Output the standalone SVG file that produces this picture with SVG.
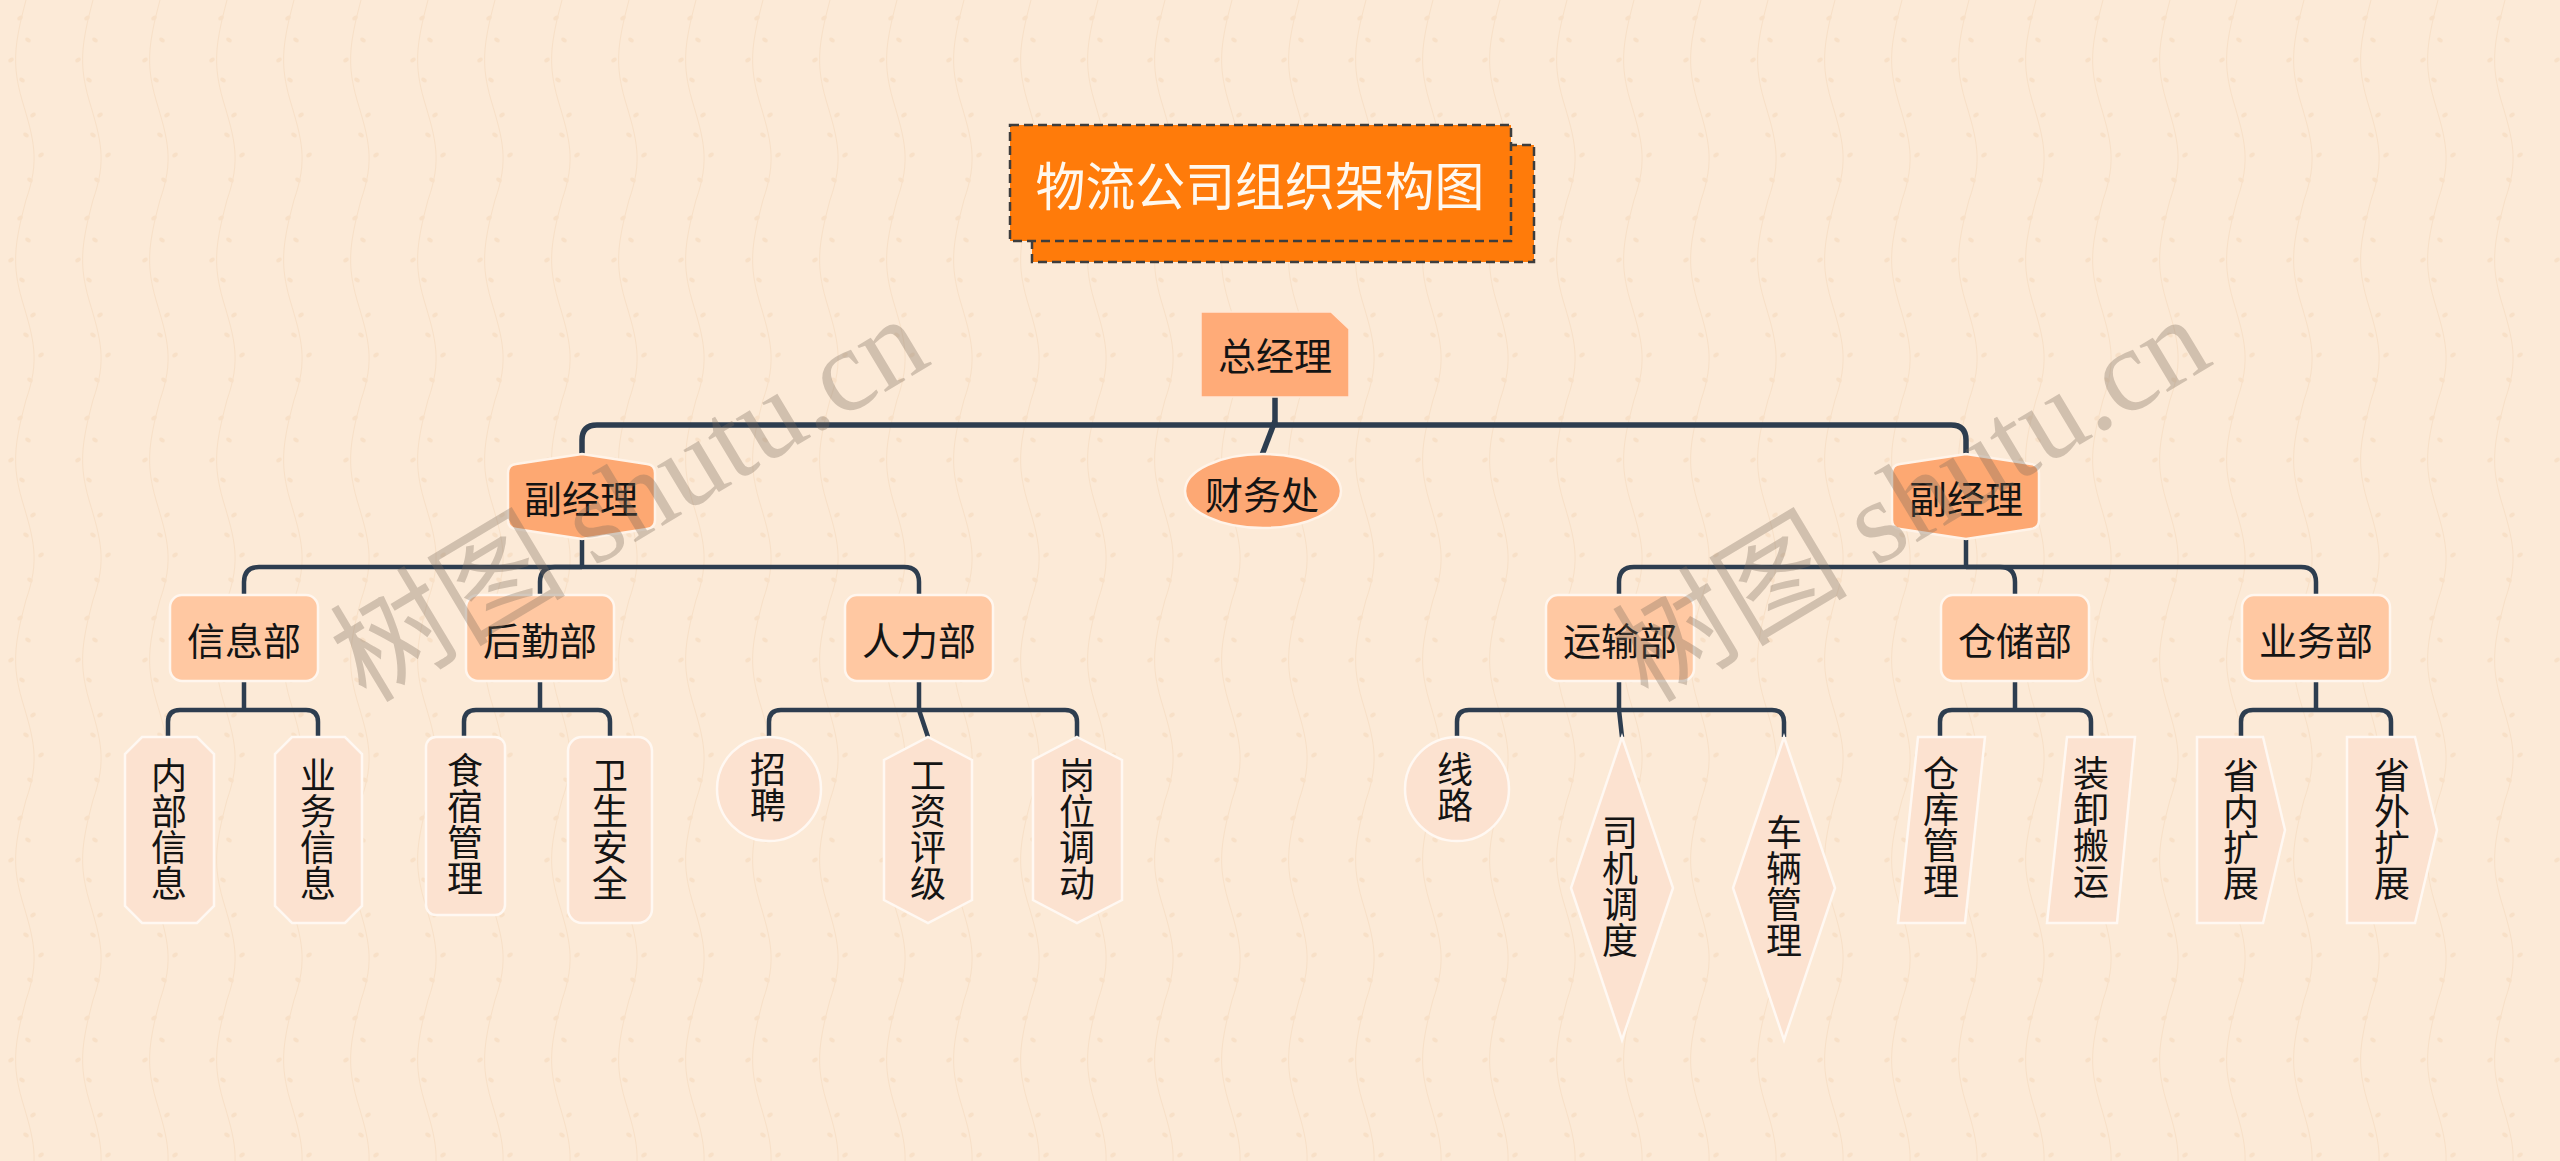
<svg xmlns="http://www.w3.org/2000/svg" width="2560" height="1161" viewBox="0 0 2560 1161">
<defs>
<style>
.conn{fill:none;stroke:#2D3D4F;stroke-width:4.5;stroke-linecap:butt;stroke-linejoin:round}
.main{stroke-width:5.5}
.t{font-family:"Noto Sans CJK SC","Noto Sans",sans-serif;fill:#141414;dominant-baseline:central;text-anchor:middle}
.lv{font-size:38px}
.lf{font-size:36px}
.mgr{fill:#FDA872;stroke:#FFF3E8;stroke-width:2.5}
.dept{fill:#FFC8A2;stroke:#FFF6EE;stroke-width:2.5}
.leaf{fill:#FCE2D0;stroke:#FFF8F2;stroke-width:2.5}
.wm{font-family:"Liberation Serif","Noto Sans CJK SC",serif;font-size:118px;fill:#7A6A5A;fill-opacity:0.33}
</style>
<pattern id="bgp" width="67" height="200" patternUnits="userSpaceOnUse">
<rect width="67" height="200" fill="#FCEAD7"/>
<path d="M26,0 C14,45 12,65 22,100 C34,140 40,160 26,200" fill="none" stroke="#F8E0C7" stroke-width="1"/>
<g fill="#F8E0C7">
<ellipse cx="20" cy="18" rx="3" ry="2" transform="rotate(-30 20 18)"/>
<ellipse cx="28" cy="40" rx="3" ry="2" transform="rotate(30 28 40)"/>
<ellipse cx="11" cy="60" rx="3" ry="2" transform="rotate(-30 11 60)"/>
<ellipse cx="22" cy="80" rx="3" ry="2" transform="rotate(30 22 80)"/>
<ellipse cx="33" cy="115" rx="3" ry="2" transform="rotate(-30 33 115)"/>
<ellipse cx="26" cy="135" rx="3" ry="2" transform="rotate(30 26 135)"/>
<ellipse cx="41" cy="155" rx="3" ry="2" transform="rotate(-30 41 155)"/>
<ellipse cx="30" cy="180" rx="3" ry="2" transform="rotate(30 30 180)"/>
</g>
</pattern>
</defs>
<rect width="2560" height="1161" fill="url(#bgp)"/>

<g id="connectors">
<path class="conn main" d="M1275,397 V425"/>
<path class="conn main" d="M1275,425 H597 Q582,425 582,440 V455"/>
<path class="conn main" d="M1275,425 H1951 Q1966,425 1966,440 V455"/>
<path class="conn main" d="M1275,421 L1262,455"/>
<path class="conn" d="M582,538 V567"/>
<path class="conn" d="M582,567 H259 Q244,567 244,582 V595"/>
<path class="conn" d="M582,567 H555 Q540,567 540,582 V595"/>
<path class="conn" d="M582,567 H904 Q919,567 919,582 V595"/>
<path class="conn" d="M1966,538 V567"/>
<path class="conn" d="M1966,567 H1634 Q1619,567 1619,582 V595"/>
<path class="conn" d="M1966,567 H2000 Q2015,567 2015,582 V595"/>
<path class="conn" d="M1966,567 H2301 Q2316,567 2316,582 V595"/>
<path class="conn" d="M244,681 V710 M244,710 H180 Q168,710 168,722 V737 M244,710 H306 Q318,710 318,722 V737"/>
<path class="conn" d="M540,681 V710 M540,710 H476 Q464,710 464,722 V737 M540,710 H598 Q610,710 610,722 V737"/>
<path class="conn" d="M919,681 V710 L928,737 M919,710 H781 Q769,710 769,722 V737 M919,710 H1065 Q1077,710 1077,722 V737"/>
<path class="conn" d="M1619,681 V710 L1622,737 M1619,710 H1469 Q1457,710 1457,722 V737 M1619,710 H1772 Q1784,710 1784,722 V737"/>
<path class="conn" d="M2015,681 V710 M2015,710 H1952 Q1940,710 1940,722 V737 M2015,710 H2079 Q2091,710 2091,722 V737"/>
<path class="conn" d="M2316,681 V710 M2316,710 H2253 Q2241,710 2241,722 V737 M2316,710 H2379 Q2391,710 2391,722 V737"/>
</g>

<g id="title">
<rect x="1032" y="145" width="502" height="117" fill="#FF7B0A" stroke="#3D3D3D" stroke-width="2.5" stroke-dasharray="9 5"/>
<rect x="1010" y="125" width="501" height="116" fill="#FF7B0A" stroke="#3D3D3D" stroke-width="2.5" stroke-dasharray="9 5"/>
<text class="t" x="1260" y="183" font-size="52" textLength="449" lengthAdjust="spacingAndGlyphs" style="fill:#FFF8EE">物流公司组织架构图</text>
</g>

<g id="n-gm">
<path d="M1201,312 H1331 L1349,329 V397 H1201 Z" fill="#FFAB78" stroke="#FFE8D6" stroke-width="1.5"/>
<text class="t lv" x="1275" y="353">总经理</text>
</g>

<g id="n-finance">
<ellipse cx="1263" cy="491" rx="78" ry="37" fill="#FDA874" stroke="#FFF3E8" stroke-width="2.5"/>
<text class="t lv" x="1262" y="492">财务处</text>
</g>

<g id="n-vgm-left">
<path class="mgr" d="M582,454 L647,464 Q655,465 655,473 L655,520 Q655,528 647,529 L582,539 L516,529 Q508,528 508,520 L508,473 Q508,465 516,464 Z"/>
<text class="t lv" x="581" y="496">副经理</text>
</g>

<g id="n-vgm-right">
<path class="mgr" d="M1966,454 L2031,464 Q2039,465 2039,473 L2039,520 Q2039,528 2031,529 L1966,539 L1900,529 Q1892,528 1892,520 L1892,473 Q1892,465 1900,464 Z"/>
<text class="t lv" x="1966" y="496">副经理</text>
</g>

<g id="n-info"><rect class="dept" x="170" y="595" width="148" height="86" rx="12"/><text class="t lv" x="244" y="638">信息部</text></g>
<g id="n-logistics"><rect class="dept" x="466" y="595" width="148" height="86" rx="12"/><text class="t lv" x="540" y="638">后勤部</text></g>
<g id="n-hr"><rect class="dept" x="845" y="595" width="148" height="86" rx="12"/><text class="t lv" x="919" y="638">人力部</text></g>
<g id="n-transport"><rect class="dept" x="1546" y="595" width="148" height="86" rx="12"/><text class="t lv" x="1620" y="638">运输部</text></g>
<g id="n-storage"><rect class="dept" x="1941" y="595" width="148" height="86" rx="12"/><text class="t lv" x="2015" y="638">仓储部</text></g>
<g id="n-business"><rect class="dept" x="2242" y="595" width="148" height="86" rx="12"/><text class="t lv" x="2316" y="638">业务部</text></g>

<g id="n-internal-info">
<path class="leaf" d="M142,737 H197 L214,754 V906 L197,923 H142 L125,906 V754 Z"/>
<text class="t lf" x="169" y="773"><tspan x="169">内</tspan><tspan x="169" dy="36">部</tspan><tspan x="169" dy="36">信</tspan><tspan x="169" dy="36">息</tspan></text>
</g>
<g id="n-business-info">
<path class="leaf" d="M292,737 H345 L362,754 V906 L345,923 H292 L275,906 V754 Z"/>
<text class="t lf" x="318" y="773"><tspan x="318">业</tspan><tspan x="318" dy="36">务</tspan><tspan x="318" dy="36">信</tspan><tspan x="318" dy="36">息</tspan></text>
</g>
<g id="n-food">
<rect class="leaf" x="426" y="737" width="79" height="178" rx="10"/>
<text class="t lf" x="465" y="768"><tspan x="465">食</tspan><tspan x="465" dy="36">宿</tspan><tspan x="465" dy="36">管</tspan><tspan x="465" dy="36">理</tspan></text>
</g>
<g id="n-safety">
<rect class="leaf" x="568" y="737" width="84" height="186" rx="14"/>
<text class="t lf" x="610" y="773"><tspan x="610">卫</tspan><tspan x="610" dy="36">生</tspan><tspan x="610" dy="36">安</tspan><tspan x="610" dy="36">全</tspan></text>
</g>
<g id="n-recruit">
<circle class="leaf" cx="769" cy="789" r="52"/>
<text class="t lf" x="768" y="767"><tspan x="768">招</tspan><tspan x="768" dy="36">聘</tspan></text>
</g>
<g id="n-salary">
<path class="leaf" d="M928,737 L972,760 V900 L928,923 L884,900 V760 Z"/>
<text class="t lf" x="928" y="773"><tspan x="928">工</tspan><tspan x="928" dy="36">资</tspan><tspan x="928" dy="36">评</tspan><tspan x="928" dy="36">级</tspan></text>
</g>
<g id="n-transfer">
<path class="leaf" d="M1077,737 L1122,760 V900 L1077,923 L1033,900 V760 Z"/>
<text class="t lf" x="1077" y="773"><tspan x="1077">岗</tspan><tspan x="1077" dy="36">位</tspan><tspan x="1077" dy="36">调</tspan><tspan x="1077" dy="36">动</tspan></text>
</g>
<g id="n-route">
<circle class="leaf" cx="1457" cy="789" r="52"/>
<text class="t lf" x="1455" y="767"><tspan x="1455">线</tspan><tspan x="1455" dy="36">路</tspan></text>
</g>
<g id="n-driver">
<path class="leaf" d="M1622,737 L1673,888 L1622,1040 L1571,888 Z"/>
<text class="t lf" x="1620" y="830"><tspan x="1620">司</tspan><tspan x="1620" dy="36">机</tspan><tspan x="1620" dy="36">调</tspan><tspan x="1620" dy="36">度</tspan></text>
</g>
<g id="n-vehicle">
<path class="leaf" d="M1784,737 L1835,888 L1784,1040 L1733,888 Z"/>
<text class="t lf" x="1784" y="830"><tspan x="1784">车</tspan><tspan x="1784" dy="36">辆</tspan><tspan x="1784" dy="36">管</tspan><tspan x="1784" dy="36">理</tspan></text>
</g>
<g id="n-warehouse">
<path class="leaf" d="M1918,737 H1985 L1965,923 H1898 Z"/>
<text class="t lf" x="1941" y="771"><tspan x="1941">仓</tspan><tspan x="1941" dy="36">库</tspan><tspan x="1941" dy="36">管</tspan><tspan x="1941" dy="36">理</tspan></text>
</g>
<g id="n-loading">
<path class="leaf" d="M2067,737 H2135 L2117,923 H2047 Z"/>
<text class="t lf" x="2091" y="771"><tspan x="2091">装</tspan><tspan x="2091" dy="36">卸</tspan><tspan x="2091" dy="36">搬</tspan><tspan x="2091" dy="36">运</tspan></text>
</g>
<g id="n-in-province">
<path class="leaf" d="M2197,737 H2263 L2285,830 L2263,923 H2197 Z"/>
<text class="t lf" x="2241" y="773"><tspan x="2241">省</tspan><tspan x="2241" dy="36">内</tspan><tspan x="2241" dy="36">扩</tspan><tspan x="2241" dy="36">展</tspan></text>
</g>
<g id="n-out-province">
<path class="leaf" d="M2347,737 H2415 L2437,830 L2415,923 H2347 Z"/>
<text class="t lf" x="2392" y="773"><tspan x="2392">省</tspan><tspan x="2392" dy="36">外</tspan><tspan x="2392" dy="36">扩</tspan><tspan x="2392" dy="36">展</tspan></text>
</g>

<g id="watermarks">
<text class="wm" transform="translate(366,704) rotate(-31)">树图 shutu.cn</text>
<text class="wm" transform="translate(1648,704) rotate(-31)">树图 shutu.cn</text>
</g>
</svg>
